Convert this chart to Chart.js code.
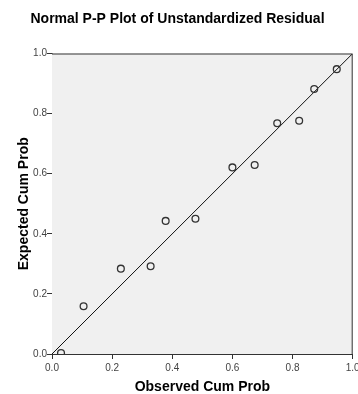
<!DOCTYPE html>
<html>
<head>
<meta charset="utf-8">
<script src="https://cdn.jsdelivr.net/npm/chart.js@4/dist/chart.umd.min.js"></script>
<style>
  html, body { margin: 0; padding: 0; background: #fff; overflow: hidden; }
  canvas { display: block; }
</style>
</head>
<body>
<canvas id="grafico" width="358" height="394"></canvas>
<script>
// Valores (P-P plot)
const observedCum = [0.030, 0.105, 0.229, 0.328, 0.378, 0.477, 0.600, 0.674, 0.749, 0.822, 0.872, 0.947];
const expectedCum = [0.003, 0.159, 0.284, 0.292, 0.443, 0.450, 0.621, 0.629, 0.768, 0.776, 0.882, 0.948];

// Linha de referência (diagonal)
const refX = [0, 1];
const refY = [0, 1];

const tickValues = [0, 0.2, 0.4, 0.6, 0.8, 1.0];

const chartTitle = 'Normal P-P Plot of Unstandardized Residual';
const xTitle = 'Observed Cum Prob';
const yTitle = 'Expected Cum Prob';

const fontFamily = '"Liberation Sans", Arial, sans-serif';

// Fundo cinza e moldura da área do gráfico
const plotFrame = {
    id: 'plotFrame',
    beforeDatasetsDraw(chart) {
        const { ctx, chartArea: a } = chart;
        ctx.save();
        ctx.fillStyle = '#f0f0f0';
        ctx.fillRect(a.left, a.top, a.right - a.left, a.bottom - a.top);
        ctx.restore();
    },
    afterDraw(chart) {
        const { ctx, chartArea: a } = chart;
        ctx.save();
        ctx.strokeStyle = '#333';
        ctx.lineWidth = 1;
        ctx.beginPath();
        ctx.moveTo(a.left, a.top + 0.5);
        ctx.lineTo(a.right - 0.5, a.top + 0.5);
        ctx.lineTo(a.right - 0.5, a.bottom);
        ctx.stroke();
        ctx.restore();
    }
};

const ctx = document.getElementById('grafico').getContext('2d');
const chart = new Chart(ctx, {
    type: 'scatter',
    data: {
        datasets: [{
            type: 'line',
            data: refX.map((x, i) => ({ x, y: refY[i] })),
            borderColor: '#111',
            borderWidth: 1,
            pointRadius: 0,
            fill: false,
            order: 2
        }, {
            data: observedCum.map((x, i) => ({ x, y: expectedCum[i] })),
            pointStyle: 'circle',
            pointRadius: 3.4,
            pointBorderWidth: 1.3,
            borderColor: '#333',
            backgroundColor: 'rgba(0,0,0,0)',
            clip: 0,
            order: 1
        }]
    },
    options: {
        responsive: false,
        animation: false,
        layout: { padding: { left: 0, right: 3, top: 0, bottom: 0 } },
        plugins: {
            legend: { display: false },
            tooltip: { enabled: false },
            title: {
                display: true,
                text: chartTitle,
                color: '#000',
                font: { family: fontFamily, size: 14, weight: 'bold' },
                padding: { top: 11, bottom: 25.7 }
            }
        },
        scales: {
            x: {
                type: 'linear',
                min: 0,
                max: 1,
                afterBuildTicks: s => { s.ticks = tickValues.map(v => ({ value: v })); },
                afterFit: s => { s.height = 40; s.paddingLeft = 0; s.paddingRight = 0; },
                ticks: {
                    callback: v => v.toFixed(1),
                    color: '#444',
                    font: { family: fontFamily, size: 10 },
                    padding: 3,
                    maxRotation: 0
                },
                grid: { drawOnChartArea: false, drawTicks: true, tickLength: 5, color: '#333' },
                border: { color: '#333' },
                title: {
                    display: true,
                    text: xTitle,
                    color: '#000',
                    font: { family: fontFamily, size: 14, weight: 'bold' },
                    padding: { top: 0, bottom: -2 }
                }
            },
            y: {
                type: 'linear',
                min: 0,
                max: 1,
                afterBuildTicks: s => { s.ticks = tickValues.map(v => ({ value: v })); },
                afterFit: s => { s.width = 52; },
                ticks: {
                    callback: v => v.toFixed(1),
                    color: '#444',
                    font: { family: fontFamily, size: 10 },
                    padding: 0
                },
                grid: { drawOnChartArea: false, drawTicks: true, tickLength: 5, color: '#333' },
                border: { color: '#333' },
                title: {
                    display: true,
                    text: yTitle,
                    color: '#000',
                    font: { family: fontFamily, size: 14, weight: 'bold' },
                    padding: { top: 15.5, bottom: 0 }
                }
            }
        }
    },
    plugins: [plotFrame]
});
</script>
</body>
</html>
